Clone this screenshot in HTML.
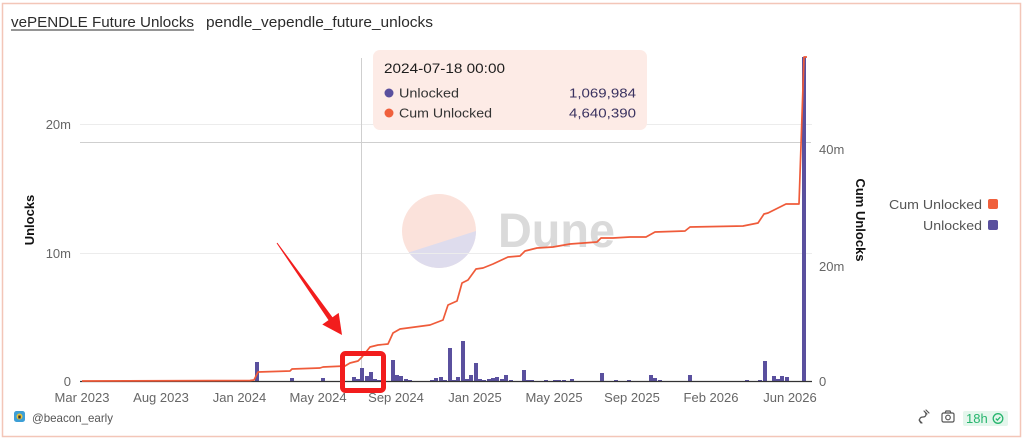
<!DOCTYPE html>
<html>
<head>
<meta charset="utf-8">
<style>
  html,body{margin:0;padding:0;background:#fff;}
  body{width:1027px;height:445px;overflow:hidden;}
  svg{display:block;}
  text{font-family:"Liberation Sans", sans-serif;}
</style>
</head>
<body>
<svg width="1027" height="445" viewBox="0 0 1027 445" xmlns="http://www.w3.org/2000/svg">
  <defs>
    <clipPath id="wm"><circle cx="439" cy="231" r="37"/></clipPath>
  </defs>
  <rect x="0" y="0" width="1027" height="445" fill="#ffffff"/>
  <rect x="2.5" y="3.5" width="1018" height="433" fill="#ffffff" stroke="#f3c6b8" stroke-width="1.5"/>

  <text x="11" y="27" font-size="14.5" fill="#2b2b2b" textLength="183" lengthAdjust="spacingAndGlyphs">vePENDLE Future Unlocks</text>
  <line x1="11" y1="30" x2="194" y2="30" stroke="#2b2b2b" stroke-width="1"/>
  <text x="206" y="27" font-size="14.5" fill="#2b2b2b" textLength="227" lengthAdjust="spacingAndGlyphs">pendle_vependle_future_unlocks</text>

  <g clip-path="url(#wm)">
    <rect x="400" y="190" width="80" height="80" fill="#fbe2db"/>
    <polygon points="400,255.2 480,229.7 480,272 400,272" fill="#dedced"/>
  </g>
  <text x="498" y="247" font-size="48" font-weight="bold" fill="#dadada" textLength="117" lengthAdjust="spacingAndGlyphs">Dune</text>

  <line x1="80" y1="124.5" x2="812" y2="124.5" stroke="#ececec" stroke-width="1"/>
  <line x1="80" y1="253.5" x2="812" y2="253.5" stroke="#ececec" stroke-width="1"/>
  <line x1="80" y1="142.5" x2="811" y2="142.5" stroke="#cfcfcf" stroke-width="1"/>
  <line x1="361.5" y1="58" x2="361.5" y2="381" stroke="#cfcfcf" stroke-width="1"/>

  <g font-size="13" fill="#666" text-anchor="end">
    <text x="71" y="129">20m</text>
    <text x="71" y="258">10m</text>
    <text x="71" y="386">0</text>
  </g>
  <text transform="translate(34,220) rotate(-90)" font-size="13" font-weight="bold" fill="#111" text-anchor="middle">Unlocks</text>

  <g font-size="13" fill="#666">
    <text x="819" y="154">40m</text>
    <text x="819" y="271">20m</text>
    <text x="819" y="386">0</text>
  </g>
  <text transform="translate(856,220) rotate(90)" font-size="13" font-weight="bold" fill="#111" text-anchor="middle">Cum Unlocks</text>

  <g fill="#5a509e">
    <rect x="255" y="362" width="4" height="19"/>
    <rect x="290" y="378" width="4" height="3"/>
    <rect x="321" y="378" width="4" height="3"/>
    <rect x="352" y="377" width="4" height="4"/>
    <rect x="356" y="379" width="4" height="2"/>
    <rect x="360" y="368" width="4" height="13"/>
    <rect x="365" y="376" width="4" height="5"/>
    <rect x="369" y="372" width="4" height="9"/>
    <rect x="373" y="379" width="4" height="2"/>
    <rect x="377" y="380" width="4" height="1"/>
    <rect x="391" y="360" width="4" height="21"/>
    <rect x="395" y="375" width="4" height="6"/>
    <rect x="399" y="376" width="4" height="5"/>
    <rect x="404" y="379" width="4" height="2"/>
    <rect x="408" y="380" width="4" height="1"/>
    <rect x="430" y="380" width="4" height="1"/>
    <rect x="434" y="378" width="4" height="3"/>
    <rect x="439" y="377" width="4" height="4"/>
    <rect x="443" y="380" width="4" height="1"/>
    <rect x="448" y="348" width="4" height="33"/>
    <rect x="452" y="380" width="4" height="1"/>
    <rect x="456" y="377" width="4" height="4"/>
    <rect x="461" y="341" width="4" height="40"/>
    <rect x="465" y="379" width="4" height="2"/>
    <rect x="469" y="375" width="4" height="6"/>
    <rect x="474" y="363" width="4" height="18"/>
    <rect x="478" y="379" width="4" height="2"/>
    <rect x="482" y="380" width="4" height="1"/>
    <rect x="487" y="379" width="4" height="2"/>
    <rect x="491" y="378" width="4" height="3"/>
    <rect x="495" y="377" width="4" height="4"/>
    <rect x="500" y="379" width="4" height="2"/>
    <rect x="504" y="375" width="4" height="6"/>
    <rect x="509" y="380" width="4" height="1"/>
    <rect x="522" y="370" width="4" height="11"/>
    <rect x="526" y="380" width="4" height="1"/>
    <rect x="530" y="380" width="4" height="1"/>
    <rect x="544" y="380" width="4" height="1"/>
    <rect x="553" y="380" width="4" height="1"/>
    <rect x="557" y="380" width="4" height="1"/>
    <rect x="562" y="380" width="4" height="1"/>
    <rect x="570" y="379" width="4" height="2"/>
    <rect x="600" y="373" width="4" height="8"/>
    <rect x="614" y="380" width="4" height="1"/>
    <rect x="627" y="380" width="4" height="1"/>
    <rect x="649" y="375" width="4" height="6"/>
    <rect x="653" y="378" width="4" height="3"/>
    <rect x="658" y="380" width="4" height="1"/>
    <rect x="688" y="375" width="4" height="6"/>
    <rect x="745" y="380" width="4" height="1"/>
    <rect x="758" y="380" width="4" height="1"/>
    <rect x="763" y="361" width="4" height="20"/>
    <rect x="772" y="376" width="4" height="5"/>
    <rect x="776" y="379" width="4" height="2"/>
    <rect x="780" y="376" width="4" height="5"/>
    <rect x="785" y="377" width="4" height="4"/>
    <rect x="802" y="57" width="4" height="324"/>
  </g>

  <line x1="80" y1="381.5" x2="812" y2="381.5" stroke="#333" stroke-width="1.3"/>

  <polyline fill="none" stroke="#ef5b3a" stroke-width="1.7" stroke-linejoin="round"
    points="82,381 250,380.5 254,380 258,372 290,371 292,369 320,368 323,367 345,366 350,363 358,361 362,357 370,347 378,345 388,344 393,333 400,329 430,325 443,320 448,305 457,301 462,283 468,280 476,269 483,268 493,264 508,257 520,256 525,251 537,248 553,247 570,244 597,242 601,238 613,238 630,237 646,237 655,232 685,231 690,227 743,226 758,223 764,214 768,213 778,208 786,204 799,204 804,57 807,57"/>

  <g font-size="13" fill="#666" text-anchor="middle">
    <text x="82" y="402">Mar 2023</text>
    <text x="161" y="402">Aug 2023</text>
    <text x="239.5" y="402">Jan 2024</text>
    <text x="318" y="402">May 2024</text>
    <text x="396" y="402">Sep 2024</text>
    <text x="475" y="402">Jan 2025</text>
    <text x="554" y="402">May 2025</text>
    <text x="632" y="402">Sep 2025</text>
    <text x="711" y="402">Feb 2026</text>
    <text x="790" y="402">Jun 2026</text>
  </g>

  <g font-size="13" fill="#555">
    <text x="889" y="209" textLength="93" lengthAdjust="spacingAndGlyphs">Cum Unlocked</text>
    <text x="923" y="230" textLength="59" lengthAdjust="spacingAndGlyphs">Unlocked</text>
  </g>
  <rect x="988" y="199" width="10" height="10" rx="2" fill="#f0603c"/>
  <rect x="988" y="220" width="10" height="10" rx="2" fill="#5a509e"/>

  <rect x="373" y="50" width="274" height="80" rx="7" fill="#fdebe6"/>
  <text x="384" y="73" font-size="14" fill="#1e1e1e" textLength="121" lengthAdjust="spacingAndGlyphs">2024-07-18 00:00</text>
  <circle cx="389" cy="93" r="4.5" fill="#5a509e"/>
  <circle cx="389" cy="113" r="4.5" fill="#f0603c"/>
  <text x="399" y="97.5" font-size="13" fill="#333" textLength="60" lengthAdjust="spacingAndGlyphs">Unlocked</text>
  <text x="399" y="117.5" font-size="13" fill="#333" textLength="93" lengthAdjust="spacingAndGlyphs">Cum Unlocked</text>
  <text x="569" y="97.5" font-size="13" fill="#3a3260" textLength="67" lengthAdjust="spacingAndGlyphs">1,069,984</text>
  <text x="569" y="117.5" font-size="13" fill="#3a3260" textLength="67" lengthAdjust="spacingAndGlyphs">4,640,390</text>

  <polygon points="277.4,242.7 332.5,317.3 338.7,312.9 342,335 322.3,324.5 328.5,320.1 276.6,243.3" fill="#f21d1d"/>
  <rect x="342.5" y="353.5" width="41" height="37" rx="3" fill="none" stroke="#f21d1d" stroke-width="5"/>

  <rect x="14" y="411" width="11" height="11" rx="2.5" fill="#3d9fd6"/>
  <circle cx="19.5" cy="416.5" r="3" fill="#e8c33a"/>
  <rect x="18.3" y="415.5" width="2.4" height="3" fill="#333"/>
  <text x="32" y="422" font-size="12" fill="#555" textLength="81" lengthAdjust="spacingAndGlyphs">@beacon_early</text>

  <g fill="none" stroke="#555" stroke-width="1.2" stroke-linecap="round">
    <path d="M921,423 C918,420 920,417 923,417 C926,417 927,414 925,412"/>
    <path d="M924,411 L927,414 M926,410 L929,413"/>
    <path d="M919,420 L922,423"/>
  </g>
  <g fill="none" stroke="#555" stroke-width="1.2">
    <rect x="942" y="413" width="12" height="9" rx="1.5"/>
    <path d="M945,413 L946,411 L950,411 L951,413"/>
    <circle cx="948" cy="417.5" r="2.3"/>
  </g>
  <rect x="963" y="411" width="45" height="15" rx="2" fill="#e4f6ec"/>
  <text x="966" y="423" font-size="13" fill="#27b56e">18h</text>
  <circle cx="998" cy="418.5" r="4.8" fill="none" stroke="#27b56e" stroke-width="1.3"/>
  <path d="M995.8,418.6 L997.4,420.2 L1000.3,417" fill="none" stroke="#27b56e" stroke-width="1.3"/>
</svg>
</body>
</html>
